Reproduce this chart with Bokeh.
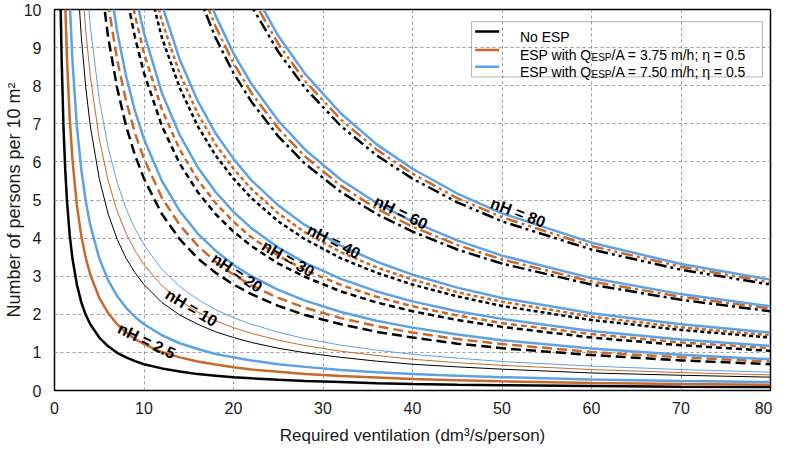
from bokeh.plotting import figure
from bokeh.models import Range1d, FixedTicker, Label, BoxAnnotation, ColumnDataSource
from bokeh.embed import file_html
from bokeh.resources import INLINE
from bokeh.core.properties import value

# shared ventilation grid (dm3/s/person)
X = [0.5, 0.6, 0.7, 0.8, 1, 1.2, 1.4, 1.7, 2, 2.5, 3, 3.5, 4, 5, 6, 7, 8, 9, 10,
     12, 14, 16, 18, 20, 22, 25, 28, 32, 36, 40, 45, 50, 60, 70, 80]

# persons per 10 m2; each list ends at x = 80
no_esp_2_5 = [11.57, 9.92, 8.68, 6.94, 5.79, 4.96, 4.08, 3.47, 2.78, 2.31, 1.98, 1.74, 1.39, 1.16, 0.99, 0.87, 0.77, 0.69, 0.58, 0.50, 0.43, 0.39, 0.35, 0.32, 0.28, 0.25, 0.22, 0.19, 0.17, 0.15, 0.14, 0.12, 0.10, 0.09]
esp375_2_5 = [12.15, 10.13, 8.68, 7.15, 6.08, 4.86, 4.05, 3.47, 3.04, 2.43, 2.03, 1.74, 1.52, 1.35, 1.22, 1.01, 0.87, 0.76, 0.68, 0.61, 0.55, 0.49, 0.43, 0.38, 0.34, 0.30, 0.27, 0.24, 0.20, 0.17, 0.15]
esp750_2_5 = [12.40, 10.21, 8.68, 6.94, 5.79, 4.96, 4.34, 3.47, 2.89, 2.48, 2.17, 1.93, 1.74, 1.45, 1.24, 1.09, 0.96, 0.87, 0.79, 0.69, 0.62, 0.54, 0.48, 0.43, 0.39, 0.35, 0.29, 0.25, 0.22]

no_esp_10 = [11.11, 9.26, 7.94, 6.94, 5.56, 4.63, 3.97, 3.47, 3.09, 2.78, 2.31, 1.98, 1.74, 1.54, 1.39, 1.26, 1.11, 0.99, 0.87, 0.77, 0.69, 0.62, 0.56, 0.46, 0.40, 0.35]
esp375_10 = [11.00, 9.42, 8.25, 6.60, 5.50, 4.71, 4.12, 3.67, 3.30, 2.75, 2.36, 2.06, 1.83, 1.65, 1.50, 1.32, 1.18, 1.03, 0.92, 0.82, 0.73, 0.66, 0.55, 0.47, 0.41]
esp750_10 = [10.91, 9.55, 7.64, 6.37, 5.46, 4.77, 4.24, 3.82, 3.18, 2.73, 2.39, 2.12, 1.91, 1.74, 1.53, 1.36, 1.19, 1.06, 0.95, 0.85, 0.76, 0.64, 0.55, 0.48]

no_esp_20 = [11.11, 9.26, 7.94, 6.94, 6.17, 5.56, 4.63, 3.97, 3.47, 3.09, 2.78, 2.53, 2.22, 1.98, 1.74, 1.54, 1.39, 1.23, 1.11, 0.93, 0.79, 0.69]
esp375_20 = [12.15, 10.13, 8.68, 7.60, 6.75, 6.08, 5.06, 4.34, 3.80, 3.38, 3.04, 2.76, 2.43, 2.17, 1.90, 1.69, 1.52, 1.35, 1.22, 1.01, 0.87, 0.76]
esp750_20 = [11.00, 9.42, 8.25, 7.33, 6.60, 5.50, 4.71, 4.12, 3.67, 3.30, 3.00, 2.64, 2.36, 2.06, 1.83, 1.65, 1.47, 1.32, 1.10, 0.94, 0.82]

no_esp_30 = [10.42, 9.26, 8.33, 6.94, 5.95, 5.21, 4.63, 4.17, 3.79, 3.33, 2.98, 2.60, 2.31, 2.08, 1.85, 1.67, 1.39, 1.19, 1.04]
esp375_30 = [11.07, 9.84, 8.85, 7.38, 6.32, 5.53, 4.92, 4.43, 4.02, 3.54, 3.16, 2.77, 2.46, 2.21, 1.97, 1.77, 1.48, 1.26, 1.11]
esp750_30 = [10.42, 9.38, 7.81, 6.70, 5.86, 5.21, 4.69, 4.26, 3.75, 3.35, 2.93, 2.60, 2.34, 2.08, 1.88, 1.56, 1.34, 1.17]

no_esp_40 = [11.11, 9.26, 7.94, 6.94, 6.17, 5.56, 5.05, 4.44, 3.97, 3.47, 3.09, 2.78, 2.47, 2.22, 1.85, 1.59, 1.39]
esp375_40 = [11.63, 9.69, 8.31, 7.27, 6.46, 5.82, 5.29, 4.65, 4.15, 3.63, 3.23, 2.91, 2.58, 2.33, 1.94, 1.66, 1.45]
esp750_40 = [12.15, 10.13, 8.68, 7.60, 6.75, 6.08, 5.52, 4.86, 4.34, 3.80, 3.38, 3.04, 2.70, 2.43, 2.03, 1.74, 1.52]

no_esp_60 = [10.42, 9.26, 8.33, 7.58, 6.67, 5.95, 5.21, 4.63, 4.17, 3.70, 3.33, 2.78, 2.38, 2.08]
esp375_60 = [10.74, 9.55, 8.59, 7.81, 6.88, 6.14, 5.37, 4.77, 4.30, 3.82, 3.44, 2.86, 2.46, 2.15]
esp750_60 = [11.07, 9.84, 8.85, 8.05, 7.08, 6.32, 5.53, 4.92, 4.43, 3.94, 3.54, 2.95, 2.53, 2.21]

no_esp_80 = [11.11, 10.10, 8.89, 7.94, 6.94, 6.17, 5.56, 4.94, 4.44, 3.70, 3.17, 2.78]
esp375_80 = [11.37, 10.34, 9.10, 8.12, 7.11, 6.32, 5.69, 5.05, 4.55, 3.79, 3.25, 2.84]
esp750_80 = [10.57, 9.31, 8.31, 7.27, 6.46, 5.82, 5.17, 4.65, 3.88, 3.32, 2.91]

curve_labels = ["nH = 2.5", "nH = 10", "nH = 20", "nH = 30", "nH = 40", "nH = 60", "nH = 80"]
label_x = [10.3, 15.3, 20.4, 26.1, 31.2, 38.7, 51.8]
label_y = [1.30, 2.17, 3.09, 3.46, 3.91, 4.67, 4.67]
label_angle = [-26, -31, -34, -30, -27, -26, -21]

x_ticks = [0, 10, 20, 30, 40, 50, 60, 70, 80]
y_ticks = [0, 1, 2, 3, 4, 5, 6, 7, 8, 9, 10]

legend_texts = ["No ESP", "ESP with Q", "ESP", "/A = 3.75 m/h; \u03b7 = 0.5", "/A = 7.50 m/h; \u03b7 = 0.5"]

BLACK = "#000000"
ORANGE = "#C8692A"
BLUE = "#5DA1E6"
FONT = "Liberation Sans"

groups = [
    (no_esp_2_5, esp375_2_5, esp750_2_5, "solid", 2.5, 2.5),
    (no_esp_10, esp375_10, esp750_10, "solid", 1.0, 1.0),
    (no_esp_20, esp375_20, esp750_20, "10 5", 2.5, 2.5),
    (no_esp_30, esp375_30, esp750_30, "6 4", 2.5, 2.5),
    (no_esp_40, esp375_40, esp750_40, "4 3", 2.5, 2.5),
    (no_esp_60, esp375_60, esp750_60, "12 4 3 4", 2.5, 2.5),
    (no_esp_80, esp375_80, esp750_80, "12 4 3 4 3 4", 2.5, 2.5),
]

p = figure(width=772, height=447, output_backend="svg", toolbar_location=None,
           x_range=Range1d(0, 80), y_range=Range1d(0, 10),
           min_border_left=40, min_border_right=2, min_border_top=9, min_border_bottom=40)

p.background_fill_color = "white"
p.border_fill_color = "white"
p.outline_line_color = "black"
p.outline_line_width = 1.5

for ax in (p.xaxis[0], p.yaxis[0]):
    ax.axis_line_color = None
    ax.major_tick_line_color = None
    ax.minor_tick_line_color = None
    ax.major_tick_out = 0
    ax.major_tick_in = 0
    ax.minor_tick_out = 0
    ax.minor_tick_in = 0
    ax.major_label_text_font = FONT
    ax.major_label_text_font_size = "16px"
    ax.major_label_text_color = "#1a1a1a"
    ax.axis_label_text_font = FONT
    ax.axis_label_text_font_style = "normal"
    ax.axis_label_text_color = "#1a1a1a"

p.xaxis.ticker = FixedTicker(ticks=x_ticks)
p.yaxis.ticker = FixedTicker(ticks=y_ticks)
p.xaxis.axis_label = "Required ventilation (dm\u00b3/s/person)"
p.yaxis.axis_label = "Number of persons per 10 m\u00b2"
p.xaxis.axis_label_text_font_size = "17px"
p.yaxis.axis_label_text_font_size = "18px"
p.xaxis.major_label_standoff = 11
p.yaxis.major_label_standoff = 13
p.xaxis.axis_label_standoff = 9
p.yaxis.axis_label_standoff = -3

for g in (p.xgrid[0], p.ygrid[0]):
    g.grid_line_color = "#9a9a9a"
    g.grid_line_dash = "3 3"
    g.grid_line_width = 1

for blk, org, blu, dash, w_dash, w_blue in groups:
    for ys, col, d, w in ((blk, BLACK, dash, w_dash), (org, ORANGE, dash, w_dash), (blu, BLUE, "solid", w_blue)):
        xs = X[len(X) - len(ys):]
        p.line(xs, ys, line_color=col, line_width=w, line_dash=d)

lab_src = ColumnDataSource(dict(x=label_x, y=label_y, text=curve_labels, angle=label_angle))
p.text(x="x", y="y", text="text", angle="angle", angle_units="deg", source=lab_src,
       text_font=value(FONT), text_font_style="bold", text_font_size="16px",
       text_align="center", text_baseline="middle", text_color="black")

# legend (box, samples, texts)
p.add_layout(BoxAnnotation(left=46.6, right=79.1, bottom=8.23, top=9.68,
                           fill_color=None, fill_alpha=0, line_color="black", line_width=1))
rows_y = [9.42, 8.94, 8.50]
p.segment(x0=[47.0] * 3, x1=[49.7] * 3, y0=rows_y, y1=rows_y,
          line_color=[BLACK, ORANGE, BLUE], line_width=2.5)

tx = 52.0
def lab(text, y, xo, yo, size):
    p.add_layout(Label(x=tx, y=y, x_offset=xo, y_offset=yo, text=text,
                       text_font=FONT, text_font_size=size, text_color="black",
                       text_baseline="alphabetic", text_align="left"))

lab(legend_texts[0], rows_y[0], 0, -5, "14px")
for ry, tail in ((rows_y[1], legend_texts[3]), (rows_y[2], legend_texts[4])):
    lab(legend_texts[1], ry, 0, -5, "14px")
    lab(legend_texts[2], ry, 71.6, -8, "10px")
    lab(tail, ry, 91.6, -5, "14px")

open("out.html", "w").write(file_html(p, INLINE))
